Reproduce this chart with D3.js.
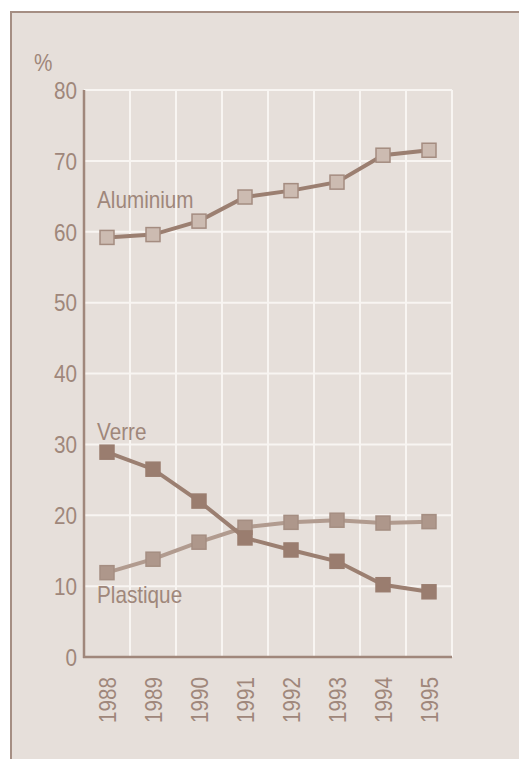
<!DOCTYPE html>
<html>
<head>
<meta charset="utf-8">
<script src="https://cdn.jsdelivr.net/npm/d3@7"></script>
<style>
  html, body { margin: 0; padding: 0; background: #fff; }
  svg { display: block; }
  text { font-family: "Liberation Sans", Arial, sans-serif; fill: #9f877b; }
</style>
</head>
<body>
<svg id="container" width="519" height="759"></svg>
<script>
const years = ["1988", "1989", "1990", "1991", "1992", "1993", "1994", "1995"];
const aluminium = [59.2, 59.6, 61.5, 64.9, 65.8, 67.0, 70.8, 71.5];
const verre = [28.9, 26.5, 22.0, 16.8, 15.1, 13.5, 10.2, 9.2];
const plastique = [11.9, 13.8, 16.2, 18.3, 19.0, 19.3, 18.9, 19.1];
const yTicks = [0, 10, 20, 30, 40, 50, 60, 70, 80];

const margin = { top: 90, left: 84, right: 67, bottom: 102 };
const W = 519, H = 759;
const sx = 0.9; // fake condensed face
const fs = "23px";

let svg = d3.select("#container");

// panel background + top/left rule
svg.append("rect").attr("x", 11).attr("y", 12).attr("width", W - 11).attr("height", H - 12)
    .attr("fill", "#e6dfda");
svg.append("line").attr("x1", 10).attr("x2", W).attr("y1", 12).attr("y2", 12)
    .attr("stroke", "#a58e83").attr("stroke-width", 2);
svg.append("line").attr("x1", 11).attr("x2", 11).attr("y1", 11).attr("y2", H)
    .attr("stroke", "#a58e83").attr("stroke-width", 2);

let xScale = d3.scaleBand().domain(years).range([margin.left, W - margin.right]).padding(0);
let yScale = d3.scaleLinear().domain([0, 80]).range([H - margin.bottom, margin.top]);

let x0 = margin.left, x1 = W - margin.right;
let y0 = yScale(0), y1 = yScale(80);

// grid
let grid = svg.append("g").attr("class", "grid");
grid.selectAll("line.h").data(yTicks.filter(d => d > 0)).enter()
    .append("line").attr("class", "h")
    .attr("x1", x0).attr("x2", x1)
    .attr("y1", d => yScale(d)).attr("y2", d => yScale(d))
    .attr("stroke", "#f8f5f2").attr("stroke-width", 2);
grid.selectAll("line.v").data(years).enter()
    .append("line").attr("class", "v")
    .attr("x1", d => xScale(d) + xScale.bandwidth()).attr("x2", d => xScale(d) + xScale.bandwidth())
    .attr("y1", y1).attr("y2", y0)
    .attr("stroke", "#f8f5f2").attr("stroke-width", 2);

// y axis
let yAxis = d3.axisLeft(yScale).tickValues(yTicks).tickSize(0).tickPadding(7);
let yg = svg.append("g").attr("transform", `translate(${x0},0)`).call(yAxis);
yg.select(".domain").remove();
yg.selectAll("text").style("font-size", fs).attr("fill", "#9f877b")
    .attr("x", -7 / sx).attr("dy", "0.36em")
    .attr("transform", `scale(${sx},1)`);
svg.append("line").attr("x1", x0).attr("x2", x0).attr("y1", y1).attr("y2", y0 + 1)
    .attr("stroke", "#a0877b").attr("stroke-width", 2.5);

// x axis
let xAxis = d3.axisBottom(xScale).tickSize(0);
let xg = svg.append("g").attr("transform", `translate(0,${y0})`).call(xAxis);
xg.select(".domain").remove();
xg.selectAll("text")
    .style("font-size", fs).attr("fill", "#9f877b")
    .style("text-anchor", "end")
    .attr("transform", `rotate(-90) scale(${sx},1)`)
    .attr("x", -20 / sx).attr("y", 8.5).attr("dy", 0);
svg.append("line").attr("x1", x0 - 1).attr("x2", x1).attr("y1", y0).attr("y2", y0)
    .attr("stroke", "#a0877b").attr("stroke-width", 2.5);

function label(x, y, txt) {
  svg.append("text")
      .attr("transform", `translate(${x},${y}) scale(${sx},1)`)
      .text(txt).style("font-size", fs);
}

// % label
label(34, 71, "%");

const series = [
  { name: "Plastique", values: plastique, line: "#b19b8f", fill: "#ae978b", stroke: "#a58e82" },
  { name: "Verre", values: verre, line: "#9b7f71", fill: "#9a7d6f", stroke: "#9a7d6f" },
  { name: "Aluminium", values: aluminium, line: "#9b7f71", fill: "#ccbbb1", stroke: "#a48c80" }
];

let line = d3.line().x((d, i) => xScale(years[i]) + xScale.bandwidth() / 2).y(d => yScale(d));
let ms = 14;

series.forEach(s => {
  let g = svg.append("g").attr("class", "series");
  g.append("path").datum(s.values).attr("d", line)
      .attr("fill", "none").attr("stroke", s.line).attr("stroke-width", 4);
  g.selectAll("rect").data(s.values).enter().append("rect")
      .attr("x", (d, i) => xScale(years[i]) + xScale.bandwidth() / 2 - ms / 2)
      .attr("y", d => yScale(d) - ms / 2)
      .attr("width", ms).attr("height", ms)
      .attr("fill", s.fill).attr("stroke", s.stroke).attr("stroke-width", 1.5);
});

// series labels
label(97, 208, "Aluminium");
label(97, 440, "Verre");
label(97, 603, "Plastique");
</script>
</body>
</html>
